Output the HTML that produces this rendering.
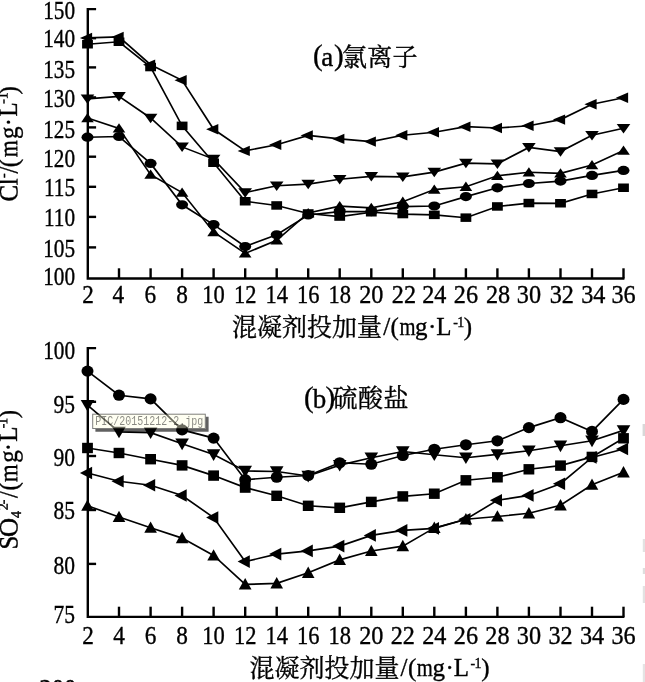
<!DOCTYPE html>
<html lang="zh"><head><meta charset="utf-8"><title>混凝剂投加量</title>
<style>
html,body{margin:0;padding:0;background:#fff;}
body{width:645px;height:682px;overflow:hidden;position:relative;}
svg{display:block;position:absolute;left:0;top:0;}
svg text{font-family:"Liberation Serif","Noto Serif CJK SC",serif;font-size:25px;fill:#000;stroke:#000;stroke-width:0.35px;}
.cjk{font-family:"Noto Serif CJK SC","Liberation Serif",serif;}
</style></head><body>
<svg width="645" height="682" viewBox="0 0 645 682">
<rect width="645" height="682" fill="#fff"/>

<g stroke="#000" stroke-width="2.4" fill="none" stroke-linecap="butt">
<path d="M96.1,9.1 H87.8 V278.5 H624.41"/>
<path d="M87.8,38.2 h8.3"/>
<path d="M87.8,67.4 h8.3"/>
<path d="M87.8,97.4 h8.3"/>
<path d="M87.8,127.4 h8.3"/>
<path d="M87.8,156.7 h8.3"/>
<path d="M87.8,186.8 h8.3"/>
<path d="M87.8,216.9 h8.3"/>
<path d="M87.8,247.4 h8.3"/>
<path d="M119.0,278.5 v-10.2"/>
<path d="M150.6,278.5 v-10.2"/>
<path d="M182.1,278.5 v-10.2"/>
<path d="M213.6,278.5 v-10.2"/>
<path d="M245.2,278.5 v-10.2"/>
<path d="M276.7,278.5 v-10.2"/>
<path d="M308.2,278.5 v-10.2"/>
<path d="M339.7,278.5 v-10.2"/>
<path d="M371.3,278.5 v-10.2"/>
<path d="M402.8,278.5 v-10.2"/>
<path d="M434.3,278.5 v-10.2"/>
<path d="M465.9,278.5 v-10.2"/>
<path d="M497.4,278.5 v-10.2"/>
<path d="M528.9,278.5 v-10.2"/>
<path d="M560.5,278.5 v-10.2"/>
<path d="M592.0,278.5 v-10.2"/>
<path d="M623.5,278.5 v-10.2"/>
<path d="M96.1,348.1 H87.8 V616.9 H624.41"/>
<path d="M87.8,401.8 h8.3"/>
<path d="M87.8,456.0 h8.3"/>
<path d="M87.8,510.0 h8.3"/>
<path d="M87.8,563.9 h8.3"/>
<path d="M119.0,616.9 v-10.2"/>
<path d="M150.6,616.9 v-10.2"/>
<path d="M182.1,616.9 v-10.2"/>
<path d="M213.6,616.9 v-10.2"/>
<path d="M245.2,616.9 v-10.2"/>
<path d="M276.7,616.9 v-10.2"/>
<path d="M308.2,616.9 v-10.2"/>
<path d="M339.7,616.9 v-10.2"/>
<path d="M371.3,616.9 v-10.2"/>
<path d="M402.8,616.9 v-10.2"/>
<path d="M434.3,616.9 v-10.2"/>
<path d="M465.9,616.9 v-10.2"/>
<path d="M497.4,616.9 v-10.2"/>
<path d="M528.9,616.9 v-10.2"/>
<path d="M560.5,616.9 v-10.2"/>
<path d="M592.0,616.9 v-10.2"/>
<path d="M623.5,616.9 v-10.2"/>
</g>
<g fill="#000">
<polyline points="87.5,37.9 119.0,36.9 150.6,64.7 182.1,80.3 213.6,129.3 245.2,150.9 276.7,144.7 308.2,135.4 339.7,138.9 371.3,141.6 402.8,135.2 434.3,132.2 465.9,126.7 497.4,128.0 528.9,125.8 560.5,119.6 592.0,104.2 623.5,97.7" fill="none" stroke="#000" stroke-width="1.65"/>
<polygon points="92.1,32.7 92.1,43.1 79.9,37.9"/>
<polygon points="123.7,31.7 123.7,42.1 111.5,36.9"/>
<polygon points="155.2,59.5 155.2,69.9 143.0,64.7"/>
<polygon points="186.7,75.1 186.7,85.5 174.5,80.3"/>
<polygon points="218.3,124.1 218.3,134.5 206.1,129.3"/>
<polygon points="249.8,145.7 249.8,156.1 237.6,150.9"/>
<polygon points="281.3,139.5 281.3,149.9 269.1,144.7"/>
<polygon points="312.8,130.2 312.8,140.6 300.6,135.4"/>
<polygon points="344.4,133.7 344.4,144.1 332.2,138.9"/>
<polygon points="375.9,136.4 375.9,146.8 363.7,141.6"/>
<polygon points="407.4,130.0 407.4,140.4 395.2,135.2"/>
<polygon points="439.0,127.0 439.0,137.4 426.8,132.2"/>
<polygon points="470.5,121.5 470.5,131.9 458.3,126.7"/>
<polygon points="502.0,122.8 502.0,133.2 489.8,128.0"/>
<polygon points="533.6,120.6 533.6,131.0 521.4,125.8"/>
<polygon points="565.1,114.4 565.1,124.8 552.9,119.6"/>
<polygon points="596.6,99.0 596.6,109.4 584.4,104.2"/>
<polygon points="628.1,92.5 628.1,102.9 615.9,97.7"/>
<polyline points="87.5,44.3 119.0,41.8 150.6,67.1 182.1,125.9 213.6,162.8 245.2,201.3 276.7,205.5 308.2,213.5 339.7,216.6 371.3,212.3 402.8,214.1 434.3,214.9 465.9,217.7 497.4,206.5 528.9,203.1 560.5,203.3 592.0,194.0 623.5,187.8" fill="none" stroke="#000" stroke-width="1.65"/>
<rect x="82.1" y="40.0" width="10.8" height="8.5"/>
<rect x="113.6" y="37.5" width="10.8" height="8.5"/>
<rect x="145.2" y="62.8" width="10.8" height="8.5"/>
<rect x="176.7" y="121.6" width="10.8" height="8.5"/>
<rect x="208.2" y="158.5" width="10.8" height="8.5"/>
<rect x="239.8" y="197.0" width="10.8" height="8.5"/>
<rect x="271.3" y="201.2" width="10.8" height="8.5"/>
<rect x="302.8" y="209.2" width="10.8" height="8.5"/>
<rect x="334.3" y="212.3" width="10.8" height="8.5"/>
<rect x="365.9" y="208.0" width="10.8" height="8.5"/>
<rect x="397.4" y="209.8" width="10.8" height="8.5"/>
<rect x="428.9" y="210.6" width="10.8" height="8.5"/>
<rect x="460.5" y="213.4" width="10.8" height="8.5"/>
<rect x="492.0" y="202.2" width="10.8" height="8.5"/>
<rect x="523.5" y="198.8" width="10.8" height="8.5"/>
<rect x="555.1" y="199.0" width="10.8" height="8.5"/>
<rect x="586.6" y="189.7" width="10.8" height="8.5"/>
<rect x="618.1" y="183.5" width="10.8" height="8.5"/>
<polyline points="87.5,98.9 119.0,96.4 150.6,118.0 182.1,146.9 213.6,159.1 245.2,192.6 276.7,185.7 308.2,184.1 339.7,179.3 371.3,176.4 402.8,176.9 434.3,172.1 465.9,163.1 497.4,163.8 528.9,147.4 560.5,151.6 592.0,135.2 623.5,128.2" fill="none" stroke="#000" stroke-width="1.65"/>
<polygon points="80.7,94.6 94.3,94.6 87.5,104.1"/>
<polygon points="112.2,92.1 125.8,92.1 119.0,101.6"/>
<polygon points="143.8,113.7 157.4,113.7 150.6,123.2"/>
<polygon points="175.3,142.6 188.9,142.6 182.1,152.1"/>
<polygon points="206.8,154.8 220.4,154.8 213.6,164.3"/>
<polygon points="238.3,188.3 252.0,188.3 245.2,197.8"/>
<polygon points="269.9,181.4 283.5,181.4 276.7,190.9"/>
<polygon points="301.4,179.8 315.0,179.8 308.2,189.3"/>
<polygon points="332.9,175.0 346.5,175.0 339.7,184.5"/>
<polygon points="364.5,172.1 378.1,172.1 371.3,181.6"/>
<polygon points="396.0,172.6 409.6,172.6 402.8,182.1"/>
<polygon points="427.5,167.8 441.1,167.8 434.3,177.3"/>
<polygon points="459.1,158.8 472.7,158.8 465.9,168.3"/>
<polygon points="490.6,159.5 504.2,159.5 497.4,169.0"/>
<polygon points="522.1,143.1 535.7,143.1 528.9,152.6"/>
<polygon points="553.7,147.3 567.2,147.3 560.5,156.8"/>
<polygon points="585.2,130.9 598.8,130.9 592.0,140.4"/>
<polygon points="616.7,123.9 630.3,123.9 623.5,133.4"/>
<polyline points="87.5,118.0 119.0,128.4 150.6,174.6 182.1,192.6 213.6,232.0 245.2,253.4 276.7,240.3 308.2,213.0 339.7,206.1 371.3,207.9 402.8,201.7 434.3,189.6 465.9,186.7 497.4,175.8 528.9,172.3 560.5,173.3 592.0,165.0 623.5,150.6" fill="none" stroke="#000" stroke-width="1.65"/>
<polygon points="81.2,122.2 93.8,122.2 87.5,112.9"/>
<polygon points="112.7,132.6 125.3,132.6 119.0,123.3"/>
<polygon points="144.3,178.8 156.9,178.8 150.6,169.5"/>
<polygon points="175.8,196.8 188.4,196.8 182.1,187.5"/>
<polygon points="207.3,236.2 219.9,236.2 213.6,226.9"/>
<polygon points="238.8,257.6 251.5,257.6 245.2,248.3"/>
<polygon points="270.4,244.5 283.0,244.5 276.7,235.2"/>
<polygon points="301.9,217.2 314.5,217.2 308.2,207.9"/>
<polygon points="333.4,210.3 346.0,210.3 339.7,201.0"/>
<polygon points="365.0,212.1 377.6,212.1 371.3,202.8"/>
<polygon points="396.5,205.9 409.1,205.9 402.8,196.6"/>
<polygon points="428.0,193.8 440.6,193.8 434.3,184.5"/>
<polygon points="459.6,190.9 472.2,190.9 465.9,181.6"/>
<polygon points="491.1,180.0 503.7,180.0 497.4,170.7"/>
<polygon points="522.6,176.5 535.2,176.5 528.9,167.2"/>
<polygon points="554.2,177.5 566.8,177.5 560.5,168.2"/>
<polygon points="585.7,169.2 598.3,169.2 592.0,159.9"/>
<polygon points="617.2,154.8 629.8,154.8 623.5,145.5"/>
<polyline points="87.5,137.2 119.0,136.5 150.6,163.4 182.1,204.8 213.6,224.6 245.2,246.5 276.7,234.8 308.2,215.0 339.7,211.6 371.3,211.6 402.8,206.6 434.3,206.0 465.9,196.6 497.4,187.8 528.9,183.5 560.5,181.1 592.0,175.4 623.5,170.4" fill="none" stroke="#000" stroke-width="1.65"/>
<ellipse cx="87.5" cy="137.2" rx="6" ry="4.6"/>
<ellipse cx="119.0" cy="136.5" rx="6" ry="4.6"/>
<ellipse cx="150.6" cy="163.4" rx="6" ry="4.6"/>
<ellipse cx="182.1" cy="204.8" rx="6" ry="4.6"/>
<ellipse cx="213.6" cy="224.6" rx="6" ry="4.6"/>
<ellipse cx="245.2" cy="246.5" rx="6" ry="4.6"/>
<ellipse cx="276.7" cy="234.8" rx="6" ry="4.6"/>
<ellipse cx="308.2" cy="215.0" rx="6" ry="4.6"/>
<ellipse cx="339.7" cy="211.6" rx="6" ry="4.6"/>
<ellipse cx="371.3" cy="211.6" rx="6" ry="4.6"/>
<ellipse cx="402.8" cy="206.6" rx="6" ry="4.6"/>
<ellipse cx="434.3" cy="206.0" rx="6" ry="4.6"/>
<ellipse cx="465.9" cy="196.6" rx="6" ry="4.6"/>
<ellipse cx="497.4" cy="187.8" rx="6" ry="4.6"/>
<ellipse cx="528.9" cy="183.5" rx="6" ry="4.6"/>
<ellipse cx="560.5" cy="181.1" rx="6" ry="4.6"/>
<ellipse cx="592.0" cy="175.4" rx="6" ry="4.6"/>
<ellipse cx="623.5" cy="170.4" rx="6" ry="4.6"/>
<polyline points="87.5,371.1 119.0,395.2 150.6,398.9 182.1,429.9 213.6,438.1 245.2,479.7 276.7,477.2 308.2,475.5 339.7,462.8 371.3,464.2 402.8,455.5 434.3,449.3 465.9,444.8 497.4,440.8 528.9,427.6 560.5,417.7 592.0,431.4 623.5,399.4" fill="none" stroke="#000" stroke-width="1.65"/>
<ellipse cx="87.5" cy="371.1" rx="6" ry="5.6"/>
<ellipse cx="119.0" cy="395.2" rx="6" ry="5.6"/>
<ellipse cx="150.6" cy="398.9" rx="6" ry="5.6"/>
<ellipse cx="182.1" cy="429.9" rx="6" ry="5.6"/>
<ellipse cx="213.6" cy="438.1" rx="6" ry="5.6"/>
<ellipse cx="245.2" cy="479.7" rx="6" ry="5.6"/>
<ellipse cx="276.7" cy="477.2" rx="6" ry="5.6"/>
<ellipse cx="308.2" cy="475.5" rx="6" ry="5.6"/>
<ellipse cx="339.7" cy="462.8" rx="6" ry="5.6"/>
<ellipse cx="371.3" cy="464.2" rx="6" ry="5.6"/>
<ellipse cx="402.8" cy="455.5" rx="6" ry="5.6"/>
<ellipse cx="434.3" cy="449.3" rx="6" ry="5.6"/>
<ellipse cx="465.9" cy="444.8" rx="6" ry="5.6"/>
<ellipse cx="497.4" cy="440.8" rx="6" ry="5.6"/>
<ellipse cx="528.9" cy="427.6" rx="6" ry="5.6"/>
<ellipse cx="560.5" cy="417.7" rx="6" ry="5.6"/>
<ellipse cx="592.0" cy="431.4" rx="6" ry="5.6"/>
<ellipse cx="623.5" cy="399.4" rx="6" ry="5.6"/>
<polyline points="87.5,405.1 119.0,431.9 150.6,432.6 182.1,443.8 213.6,454.5 245.2,471.0 276.7,471.5 308.2,476.0 339.7,465.1 371.3,457.7 402.8,451.5 434.3,454.7 465.9,457.7 497.4,454.4 528.9,450.7 560.5,445.8 592.0,440.8 623.5,430.4" fill="none" stroke="#000" stroke-width="1.65"/>
<polygon points="80.7,399.9 94.3,399.9 87.5,411.5"/>
<polygon points="112.2,426.7 125.8,426.7 119.0,438.3"/>
<polygon points="143.8,427.4 157.4,427.4 150.6,439.0"/>
<polygon points="175.3,438.6 188.9,438.6 182.1,450.2"/>
<polygon points="206.8,449.3 220.4,449.3 213.6,460.9"/>
<polygon points="238.3,465.8 252.0,465.8 245.2,477.4"/>
<polygon points="269.9,466.3 283.5,466.3 276.7,477.9"/>
<polygon points="301.4,470.8 315.0,470.8 308.2,482.4"/>
<polygon points="332.9,459.9 346.5,459.9 339.7,471.5"/>
<polygon points="364.5,452.5 378.1,452.5 371.3,464.1"/>
<polygon points="396.0,446.3 409.6,446.3 402.8,457.9"/>
<polygon points="427.5,449.5 441.1,449.5 434.3,461.1"/>
<polygon points="459.1,452.5 472.7,452.5 465.9,464.1"/>
<polygon points="490.6,449.2 504.2,449.2 497.4,460.8"/>
<polygon points="522.1,445.5 535.7,445.5 528.9,457.1"/>
<polygon points="553.7,440.6 567.2,440.6 560.5,452.2"/>
<polygon points="585.2,435.6 598.8,435.6 592.0,447.2"/>
<polygon points="616.7,425.2 630.3,425.2 623.5,436.8"/>
<polyline points="87.5,448.0 119.0,453.0 150.6,459.2 182.1,465.4 213.6,475.6 245.2,487.6 276.7,495.8 308.2,505.8 339.7,507.8 371.3,501.9 402.8,496.4 434.3,493.7 465.9,480.3 497.4,477.3 528.9,469.3 560.5,465.6 592.0,456.9 623.5,438.3" fill="none" stroke="#000" stroke-width="1.65"/>
<rect x="82.1" y="442.8" width="10.8" height="10.4"/>
<rect x="113.6" y="447.8" width="10.8" height="10.4"/>
<rect x="145.2" y="454.0" width="10.8" height="10.4"/>
<rect x="176.7" y="460.2" width="10.8" height="10.4"/>
<rect x="208.2" y="470.4" width="10.8" height="10.4"/>
<rect x="239.8" y="482.4" width="10.8" height="10.4"/>
<rect x="271.3" y="490.6" width="10.8" height="10.4"/>
<rect x="302.8" y="500.6" width="10.8" height="10.4"/>
<rect x="334.3" y="502.6" width="10.8" height="10.4"/>
<rect x="365.9" y="496.7" width="10.8" height="10.4"/>
<rect x="397.4" y="491.2" width="10.8" height="10.4"/>
<rect x="428.9" y="488.5" width="10.8" height="10.4"/>
<rect x="460.5" y="475.1" width="10.8" height="10.4"/>
<rect x="492.0" y="472.1" width="10.8" height="10.4"/>
<rect x="523.5" y="464.1" width="10.8" height="10.4"/>
<rect x="555.1" y="460.4" width="10.8" height="10.4"/>
<rect x="586.6" y="451.7" width="10.8" height="10.4"/>
<rect x="618.1" y="433.1" width="10.8" height="10.4"/>
<polyline points="87.5,473.0 119.0,481.2 150.6,485.3 182.1,495.5 213.6,517.6 245.2,561.6 276.7,554.1 308.2,550.9 339.7,546.1 371.3,535.4 402.8,530.4 434.3,528.4 465.9,519.3 497.4,500.3 528.9,495.4 560.5,483.7 592.0,457.4 623.5,449.0" fill="none" stroke="#000" stroke-width="1.65"/>
<polygon points="92.1,466.7 92.1,479.3 79.9,473.0"/>
<polygon points="123.7,474.9 123.7,487.5 111.5,481.2"/>
<polygon points="155.2,479.0 155.2,491.6 143.0,485.3"/>
<polygon points="186.7,489.2 186.7,501.8 174.5,495.5"/>
<polygon points="218.3,511.3 218.3,523.9 206.1,517.6"/>
<polygon points="249.8,555.3 249.8,567.9 237.6,561.6"/>
<polygon points="281.3,547.8 281.3,560.4 269.1,554.1"/>
<polygon points="312.8,544.6 312.8,557.2 300.6,550.9"/>
<polygon points="344.4,539.8 344.4,552.4 332.2,546.1"/>
<polygon points="375.9,529.1 375.9,541.7 363.7,535.4"/>
<polygon points="407.4,524.1 407.4,536.7 395.2,530.4"/>
<polygon points="439.0,522.1 439.0,534.7 426.8,528.4"/>
<polygon points="470.5,513.0 470.5,525.6 458.3,519.3"/>
<polygon points="502.0,494.0 502.0,506.6 489.8,500.3"/>
<polygon points="533.6,489.1 533.6,501.7 521.4,495.4"/>
<polygon points="565.1,477.4 565.1,490.0 552.9,483.7"/>
<polygon points="596.6,451.1 596.6,463.7 584.4,457.4"/>
<polygon points="628.1,442.7 628.1,455.3 615.9,449.0"/>
<polyline points="87.5,505.7 119.0,517.0 150.6,527.7 182.1,538.1 213.6,555.5 245.2,584.4 276.7,583.4 308.2,572.8 339.7,559.9 371.3,551.0 402.8,546.1 434.3,527.9 465.9,519.3 497.4,516.5 528.9,513.3 560.5,505.3 592.0,484.7 623.5,472.3" fill="none" stroke="#000" stroke-width="1.65"/>
<polygon points="81.2,510.8 93.8,510.8 87.5,499.4"/>
<polygon points="112.7,522.1 125.3,522.1 119.0,510.7"/>
<polygon points="144.3,532.8 156.9,532.8 150.6,521.4"/>
<polygon points="175.8,543.2 188.4,543.2 182.1,531.8"/>
<polygon points="207.3,560.6 219.9,560.6 213.6,549.2"/>
<polygon points="238.8,589.5 251.5,589.5 245.2,578.1"/>
<polygon points="270.4,588.5 283.0,588.5 276.7,577.1"/>
<polygon points="301.9,577.9 314.5,577.9 308.2,566.5"/>
<polygon points="333.4,565.0 346.0,565.0 339.7,553.6"/>
<polygon points="365.0,556.1 377.6,556.1 371.3,544.7"/>
<polygon points="396.5,551.2 409.1,551.2 402.8,539.8"/>
<polygon points="428.0,533.0 440.6,533.0 434.3,521.6"/>
<polygon points="459.6,524.4 472.2,524.4 465.9,513.0"/>
<polygon points="491.1,521.6 503.7,521.6 497.4,510.2"/>
<polygon points="522.6,518.4 535.2,518.4 528.9,507.0"/>
<polygon points="554.2,510.4 566.8,510.4 560.5,499.0"/>
<polygon points="585.7,489.8 598.3,489.8 592.0,478.4"/>
<polygon points="617.2,477.4 629.8,477.4 623.5,466.0"/>
</g>
<text transform="translate(75.1,18.8) scale(0.85,1)" text-anchor="end" font-size="26.5">150</text>
<text transform="translate(75.1,47.1) scale(0.85,1)" text-anchor="end" font-size="26.5">140</text>
<text transform="translate(75.1,77.8) scale(0.85,1)" text-anchor="end" font-size="26.5">135</text>
<text transform="translate(75.1,107.4) scale(0.85,1)" text-anchor="end" font-size="26.5">130</text>
<text transform="translate(75.1,137.8) scale(0.85,1)" text-anchor="end" font-size="26.5">125</text>
<text transform="translate(75.1,166.7) scale(0.85,1)" text-anchor="end" font-size="26.5">120</text>
<text transform="translate(75.1,196.4) scale(0.85,1)" text-anchor="end" font-size="26.5">115</text>
<text transform="translate(75.1,226.3) scale(0.85,1)" text-anchor="end" font-size="26.5">110</text>
<text transform="translate(75.1,256.9) scale(0.85,1)" text-anchor="end" font-size="26.5">105</text>
<text transform="translate(75.1,284.9) scale(0.85,1)" text-anchor="end" font-size="26.5">100</text>
<text transform="translate(75.1,359.2) scale(0.85,1)" text-anchor="end" font-size="26.5">100</text>
<text transform="translate(75.1,412.7) scale(0.86,1)" text-anchor="end" font-size="26.5">95</text>
<text transform="translate(75.1,465.7) scale(0.86,1)" text-anchor="end" font-size="26.5">90</text>
<text transform="translate(75.1,519.1) scale(0.86,1)" text-anchor="end" font-size="26.5">85</text>
<text transform="translate(75.1,573.6) scale(0.86,1)" text-anchor="end" font-size="26.5">80</text>
<text transform="translate(75.1,622.5) scale(0.86,1)" text-anchor="end" font-size="26.5">75</text>
<text transform="translate(88.1,303.2) scale(0.93,1)" text-anchor="middle">2</text>
<text transform="translate(88.1,643.8) scale(0.93,1)" text-anchor="middle">2</text>
<text transform="translate(118.2,303.2) scale(0.93,1)" text-anchor="middle">4</text>
<text transform="translate(119.0,643.8) scale(0.93,1)" text-anchor="middle">4</text>
<text transform="translate(150.2,303.2) scale(0.93,1)" text-anchor="middle">6</text>
<text transform="translate(150.6,643.8) scale(0.93,1)" text-anchor="middle">6</text>
<text transform="translate(182.1,303.2) scale(0.93,1)" text-anchor="middle">8</text>
<text transform="translate(182.1,643.8) scale(0.93,1)" text-anchor="middle">8</text>
<text transform="translate(213.6,303.2) scale(0.9,1)" text-anchor="middle">10</text>
<text transform="translate(213.6,643.8) scale(0.9,1)" text-anchor="middle">10</text>
<text transform="translate(245.2,303.2) scale(0.9,1)" text-anchor="middle">12</text>
<text transform="translate(245.2,643.8) scale(0.9,1)" text-anchor="middle">12</text>
<text transform="translate(276.7,303.2) scale(0.9,1)" text-anchor="middle">14</text>
<text transform="translate(276.7,643.8) scale(0.9,1)" text-anchor="middle">14</text>
<text transform="translate(308.2,303.2) scale(0.9,1)" text-anchor="middle">16</text>
<text transform="translate(308.2,643.8) scale(0.9,1)" text-anchor="middle">16</text>
<text transform="translate(339.7,303.2) scale(0.9,1)" text-anchor="middle">18</text>
<text transform="translate(339.7,643.8) scale(0.9,1)" text-anchor="middle">18</text>
<text transform="translate(371.3,303.2) scale(0.97,1)" text-anchor="middle">20</text>
<text transform="translate(371.3,643.8) scale(0.97,1)" text-anchor="middle">20</text>
<text transform="translate(403.9,303.2) scale(0.97,1)" text-anchor="middle">22</text>
<text transform="translate(402.8,643.8) scale(0.97,1)" text-anchor="middle">22</text>
<text transform="translate(434.3,303.2) scale(0.97,1)" text-anchor="middle">24</text>
<text transform="translate(434.3,643.8) scale(0.97,1)" text-anchor="middle">24</text>
<text transform="translate(465.9,303.2) scale(0.97,1)" text-anchor="middle">26</text>
<text transform="translate(465.9,643.8) scale(0.97,1)" text-anchor="middle">26</text>
<text transform="translate(498.1,303.2) scale(0.97,1)" text-anchor="middle">28</text>
<text transform="translate(497.4,643.8) scale(0.97,1)" text-anchor="middle">28</text>
<text transform="translate(528.9,303.2) scale(0.97,1)" text-anchor="middle">30</text>
<text transform="translate(528.9,643.8) scale(0.97,1)" text-anchor="middle">30</text>
<text transform="translate(561.8,303.2) scale(0.97,1)" text-anchor="middle">32</text>
<text transform="translate(560.5,643.8) scale(0.97,1)" text-anchor="middle">32</text>
<text transform="translate(593.3,303.2) scale(0.97,1)" text-anchor="middle">34</text>
<text transform="translate(592.0,643.8) scale(0.97,1)" text-anchor="middle">34</text>
<text transform="translate(623.5,303.2) scale(0.97,1)" text-anchor="middle">36</text>
<text transform="translate(623.5,643.8) scale(0.97,1)" text-anchor="middle">36</text>
<text><tspan x="313.0" y="65.3" font-size="29">(</tspan><tspan x="321.2" y="65.8" font-size="27">a</tspan><tspan x="334.0" y="65.3" font-size="29">)</tspan><tspan class="cjk" x="342.0" y="65.9" font-size="25" letter-spacing="0.3">氯离子</tspan></text>
<text><tspan x="304.1" y="406.8" font-size="29">(</tspan><tspan x="312.8" y="408.2" font-size="27">b</tspan><tspan x="325.6" y="406.8" font-size="29">)</tspan><tspan class="cjk" x="332.4" y="407" font-size="25" letter-spacing="0.6">硫酸盐</tspan></text>
<text x="232.0" y="336"><tspan class="cjk" >混凝剂投加量</tspan><tspan x="383.2" y="335.3" font-size="25">/</tspan><tspan x="390.6" y="335.3" font-size="25">(</tspan><tspan x="399.4" y="335.3" font-size="25" textLength="16.06" lengthAdjust="spacingAndGlyphs">m</tspan><tspan x="415.0" y="335.3" font-size="25">g</tspan><tspan x="428.1" y="335.3" font-size="25">·</tspan><tspan x="436.3" y="335.3" font-size="25">L</tspan><tspan x="453.2" y="326.5" font-size="14">-</tspan><tspan x="457.2" y="326.5" font-size="14">1</tspan><tspan x="463.8" y="335.3" font-size="25">)</tspan></text>
<text x="249.4" y="677"><tspan class="cjk" >混凝剂投加量</tspan><tspan x="400.6" y="676.3" font-size="25">/</tspan><tspan x="408.0" y="676.3" font-size="25">(</tspan><tspan x="416.8" y="676.3" font-size="25" textLength="16.06" lengthAdjust="spacingAndGlyphs">m</tspan><tspan x="432.4" y="676.3" font-size="25">g</tspan><tspan x="445.5" y="676.3" font-size="25">·</tspan><tspan x="453.7" y="676.3" font-size="25">L</tspan><tspan x="470.6" y="667.5" font-size="14">-</tspan><tspan x="474.6" y="667.5" font-size="14">1</tspan><tspan x="481.2" y="676.3" font-size="25">)</tspan></text>
<text transform="translate(17.6,201) rotate(-90.35) scale(1,1.06)"><tspan x="-0.4" y="0" font-size="25">C</tspan><tspan x="15.8" y="0" font-size="25">l</tspan><tspan x="23.0" y="-9.0" font-size="14">-</tspan><tspan x="27.4" y="0" font-size="25">/</tspan><tspan x="33.8" y="0" font-size="25">(</tspan><tspan x="43.7" y="0" font-size="25" textLength="17.01" lengthAdjust="spacingAndGlyphs">m</tspan><tspan x="61.9" y="0" font-size="25">g</tspan><tspan x="74.8" y="0" font-size="25">·</tspan><tspan x="84.5" y="0" font-size="25" textLength="14.05" lengthAdjust="spacingAndGlyphs">L</tspan><tspan x="97.3" y="-9.0" font-size="14">-</tspan><tspan x="101.8" y="-9.0" font-size="14">1</tspan><tspan x="106.5" y="0" font-size="25">)</tspan></text>
<text transform="translate(17.6,549) rotate(-90.35) scale(1,1.06)"><tspan x="-0.6" y="0" font-size="25">S</tspan><tspan x="11.9" y="0" font-size="25" textLength="19.18" lengthAdjust="spacingAndGlyphs">O</tspan><tspan x="31.1" y="3.3" font-size="14">4</tspan><tspan x="38.9" y="-9.0" font-size="14">2</tspan><tspan x="44.8" y="-9.0" font-size="14">-</tspan><tspan x="50.9" y="0" font-size="25">/</tspan><tspan x="58.4" y="0" font-size="25">(</tspan><tspan x="67.0" y="0" font-size="25" textLength="17.64" lengthAdjust="spacingAndGlyphs">m</tspan><tspan x="86.2" y="0" font-size="25">g</tspan><tspan x="97.8" y="0" font-size="25">·</tspan><tspan x="107.3" y="0" font-size="25">L</tspan><tspan x="120.7" y="-9.0" font-size="14">-</tspan><tspan x="124.3" y="-9.0" font-size="14">1</tspan><tspan x="130.7" y="0" font-size="25">)</tspan></text>
<text transform="translate(39.3,697.6) scale(0.886,1)" font-weight="bold" style="font-size:28px">200</text>
<defs><filter id="sb" x="-10%" y="-50%" width="120%" height="200%"><feGaussianBlur stdDeviation="0.7"/></filter></defs>
<path d="M95.4,429 H205.8 V416.8 H208.6 V431.8 H95.4 Z" fill="#000" fill-opacity="0.62" filter="url(#sb)"/>
<rect x="92.7" y="414.2" width="112.6" height="14.3" fill="#ffffe1" fill-opacity="0.42" stroke="#000" stroke-opacity="0.5" stroke-width="1"/>
<text transform="translate(95.3,424.9) scale(0.833,1)" style="font-family:'Liberation Mono',monospace;font-size:12px;stroke:none;fill:#000;fill-opacity:0.47">PIC/20151212-2.jpg</text>
<g filter="url(#sb)"><rect x="642.6" y="424" width="3" height="12" fill="#d8d8d8"/><rect x="642.8" y="539" width="3" height="13" fill="#e2e2e2"/><rect x="642.8" y="568" width="3" height="6" fill="#dedede"/><rect x="642.8" y="586" width="3" height="17" fill="#e2e2e2"/><rect x="642.8" y="664" width="3" height="18" fill="#e4e4e4"/></g>
</svg>
</body></html>
